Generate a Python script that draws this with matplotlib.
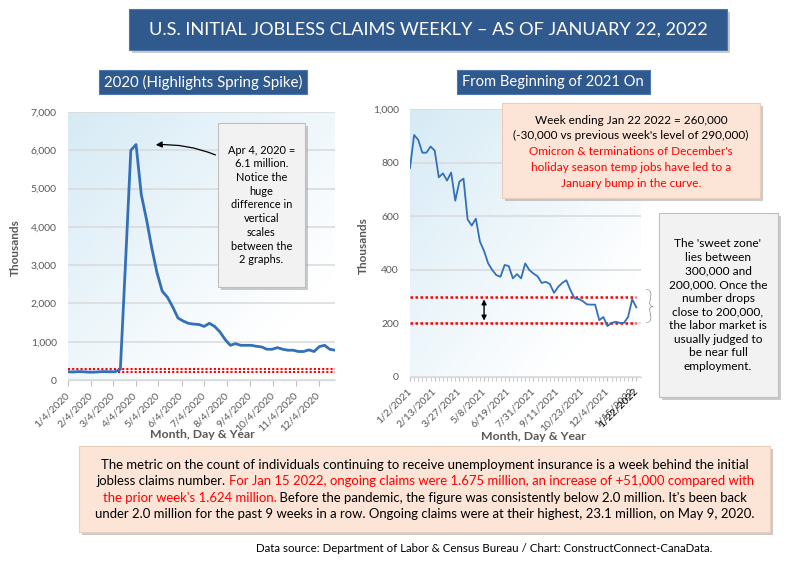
import numpy as np
import pandas as pd
import matplotlib
matplotlib.use('Agg')
import matplotlib.pyplot as plt
from matplotlib.patches import Rectangle
from matplotlib.ticker import FuncFormatter

FONT = ['Lato', 'DejaVu Sans']
plt.rcParams['font.family'] = FONT

W, H = 799, 567

# ---------------- data (thousands) ----------------
dates_2020 = pd.date_range('2020-01-04', periods=52, freq='7D')
claims_2020 = [215, 210, 220, 215, 205, 205, 215, 220, 215, 215,
               280, 3100, 6000, 6150, 4840, 4190, 3450, 2800, 2320, 2160,
               1910, 1620, 1540, 1480, 1460, 1450, 1400, 1480, 1400, 1260,
               1060, 906, 949, 906, 906, 906, 880, 863, 803, 803,
               846, 803, 778, 778, 744, 744, 786, 744, 872, 906,
               803, 778]

dates_2021 = pd.date_range('2021-01-02', periods=56, freq='7D')
claims_2021 = [780, 903, 885, 837, 837, 860, 845, 745, 760, 733,
               763, 658, 729, 740, 588, 565, 591, 505, 470, 424,
               399, 380, 374, 418, 414, 368, 384, 368, 424, 399,
               386, 376, 351, 355, 347, 314, 336, 351, 361, 324,
               293, 291, 283, 271, 270, 270, 212, 224, 190, 202,
               206, 202, 202, 224, 290, 260]

left_tick_labels = ['1/4/2020', '2/4/2020', '3/4/2020', '4/4/2020', '5/4/2020', '6/4/2020',
                    '7/4/2020', '8/4/2020', '9/4/2020', '10/4/2020', '11/4/2020', '12/4/2020']
right_tick_labels = ['1/2/2021', '2/13/2021', '3/27/2021', '5/8/2021', '6/19/2021', '7/31/2021',
                     '9/11/2021', '10/23/2021', '12/4/2021', '1/15/2022']
last_label = '1/22/2022'
sweet_zone = [200, 300]
arrow_date = '5/8/2021'

fig = plt.figure(figsize=(W / 100, H / 100), dpi=100)
fig.patch.set_facecolor('white')
renderer = fig.canvas.get_renderer()

GRAY = '#595959'
LINE = '#3470B8'


def fxy(x, y):
    return x / W, 1 - y / H


def ptext(x, y, s, **kw):
    X, Y = fxy(x, y)
    return fig.text(X, Y, s, **kw)


def fit(t, target):
    w = t.get_window_extent(renderer).width
    t.set_fontsize(t.get_fontsize() * target / w)
    return t


def box(x0, y0, x1, y1, face, edge='none', shadow=True, lw=0.8, z=2):
    if shadow:
        X, Y = fxy(x0 + 3, y1 + 3)
        fig.add_artist(Rectangle((X, Y), (x1 - x0) / W, (y1 - y0) / H, transform=fig.transFigure,
                                 facecolor='#8C8C8C', alpha=0.45, edgecolor='none', zorder=z - 0.1))
    X, Y = fxy(x0, y1)
    fig.add_artist(Rectangle((X, Y), (x1 - x0) / W, (y1 - y0) / H, transform=fig.transFigure,
                             facecolor=face, edgecolor=edge, lw=lw, zorder=z))


def gradient_bg(ax):
    n = 200
    xx, yy = np.meshgrid(np.linspace(0, 1, n), np.linspace(0, 1, n))
    s = np.clip((xx + yy) / 1.6, 0, 1)[..., None]
    c0 = np.array([0.84, 0.92, 0.96])
    c1 = np.array([1.0, 1.0, 1.0])
    img = c0 * (1 - s) + c1 * s
    ax.imshow(img, extent=(0, 1, 0, 1), transform=ax.transAxes, aspect='auto', zorder=0,
              origin='upper', interpolation='bilinear')


def style_axes(ax):
    for sp in ['left', 'right', 'top']:
        ax.spines[sp].set_visible(False)
    ax.spines['bottom'].set_color('#D9D9D9')
    ax.yaxis.grid(True, color='#D9D9D9', lw=1.1, zorder=1)
    ax.set_axisbelow(True)
    ax.tick_params(axis='y', length=0, labelsize=7.5, labelcolor=GRAY, pad=8)
    ax.tick_params(axis='x', which='both', color='#BFBFBF', labelsize=7.5, labelcolor=GRAY)
    ax.yaxis.set_major_formatter(FuncFormatter(lambda v, p: f'{int(v):,}'))


# ---------------- left chart ----------------
axL = fig.add_axes([68 / W, 1 - 380 / H, (335 - 68) / W, (380 - 112) / H])
gradient_bg(axL)
style_axes(axL)
axL.plot(dates_2020, claims_2020, color=LINE, lw=2.0, zorder=3, solid_joinstyle='round')
for v in sweet_zone:
    axL.axhline(v, color='red', lw=1.5, ls=(0, (1, 1)), zorder=2.5)
axL.set_xlim(dates_2020[0], dates_2020[-1])
axL.set_ylim(0, 7000)
axL.set_yticks(range(0, 7001, 1000))
lt = pd.to_datetime(left_tick_labels, format='%m/%d/%Y')
axL.set_xticks(lt)
axL.set_xticklabels(left_tick_labels, rotation=45, ha='right', va='center', rotation_mode='anchor')
axL.tick_params(axis='x', length=4, pad=6)

# ---------------- right chart ----------------
axR = fig.add_axes([410 / W, 1 - 377 / H, (641 - 410) / W, (377 - 109) / H])
gradient_bg(axR)
style_axes(axR)
axR.plot(dates_2021, claims_2021, color=LINE, lw=1.3, zorder=3)
for v in sweet_zone:
    axR.plot([dates_2021[0], dates_2021[-1]], [v, v], color='red', lw=1.8, ls=(0, (1, 1)), zorder=2.5)
axR.set_xlim(dates_2021[0], pd.Timestamp('2022-01-30'))
axR.set_ylim(0, 1000)
axR.set_yticks(range(0, 1001, 200))
rt = list(pd.to_datetime(right_tick_labels, format='%m/%d/%Y')) + [pd.Timestamp('2022-01-22')]
axR.set_xticks(rt)
labs = axR.set_xticklabels(right_tick_labels + [last_label], rotation=45, ha='right', va='center',
                           rotation_mode='anchor')
labs[-1].set_color('black')
axR.set_xticks(dates_2021, minor=True)
axR.tick_params(axis='x', which='both', length=3, pad=6)
ad = pd.to_datetime(arrow_date, format='%m/%d/%Y')
axR.annotate('', xy=(ad, sweet_zone[0]), xytext=(ad, sweet_zone[1]),
             arrowprops=dict(arrowstyle='<|-|>', color='black', lw=1.0, mutation_scale=7,
                             shrinkA=2, shrinkB=2), zorder=4)

# axis labels
ptext(15, 248, 'Thousands', rotation=90, ha='center', va='center', fontsize=8.5,
      fontweight='bold', color=GRAY)
ptext(363, 246, 'Thousands', rotation=90, ha='center', va='center', fontsize=8.5,
      fontweight='bold', color=GRAY)
ptext(202, 435, 'Month, Day & Year', ha='center', va='center', fontsize=8.8,
      fontweight='bold', color=GRAY)
ptext(533, 436, 'Month, Day & Year', ha='center', va='center', fontsize=8.8,
      fontweight='bold', color=GRAY)

# ---------------- title & subtitles ----------------
BLUE = '#30598E'
box(129, 9, 727, 50, BLUE, edge='#4C78AE', z=5)
t = ptext(428, 30, 'U.S. INITIAL JOBLESS CLAIMS WEEKLY \u2013 AS OF JANUARY 22, 2022', ha='center',
          va='center', color='white', fontsize=14, zorder=6)
fit(t, 562)

box(99, 70, 307, 94, BLUE, edge='#4C78AE', shadow=False, z=5)
t = ptext(203, 82, '2020 (Highlights Spring Spike)', ha='center', va='center', color='white',
          fontsize=10, zorder=6)
fit(t, 198)
box(457, 70, 650, 94, BLUE, edge='#4C78AE', shadow=False, z=5)
t = ptext(553, 82, 'From Beginning of 2021 On', ha='center', va='center', color='white',
          fontsize=10, zorder=6)
fit(t, 182)

# ---------------- left annotation ----------------
box(218, 123, 305, 287, '#F2F2F2', edge='#BFBFBF', z=5)
t = ptext(261.5, 205, 'Apr 4, 2020 =\n6.1 million.\nNotice the\nhuge\ndifference in\nvertical\nscales\nbetween the\n2 graphs.',
          ha='center', va='center', fontsize=9, linespacing=1.3, color='black', zorder=6)
fit(t, 67)
fig.add_artist(matplotlib.patches.FancyArrowPatch(
    fxy(218, 156), fxy(153, 145), transform=fig.transFigure, connectionstyle='arc3,rad=0.12',
    arrowstyle='-|>', mutation_scale=9, color='black', lw=0.9, zorder=6))

# ---------------- right annotation (salmon) ----------------
box(502, 103, 760, 198, '#FCE4D6', edge='#EBCDBB', z=5)
sal_lines = [("Week ending Jan 22 2022 = 260,000", 'black'),
             ("(-30,000 vs previous week's level of 290,000)", 'black'),
             ("Omicron & terminations of December's", 'red'),
             ("holiday season temp jobs have led to a", 'red'),
             ("January bump in the curve.", 'red')]
t = ptext(631, 120, sal_lines[1][0], ha='center', va='center', fontsize=9)
fit(t, 234)
fs_sal = t.get_fontsize()
t.remove()
for i, (s, c) in enumerate(sal_lines):
    ptext(631, 120 + i * 15.8, s, ha='center', va='center', fontsize=fs_sal, color=c, zorder=6)

# ---------------- sweet zone box ----------------
box(659, 213, 778, 397, '#F2F2F2', edge='#BFBFBF', z=5)
t = ptext(718, 305, "The 'sweet zone'\nlies between\n300,000 and\n200,000. Once the\nnumber drops\nclose to 200,000,\nthe labor market is\nusually judged to\nbe near full\nemployment.",
          ha='center', va='center', fontsize=9, linespacing=1.3, color='black', zorder=6)
fit(t, 99)
ptext(649, 308, '}', ha='center', va='center', fontsize=27, color='#404040', fontweight='light')

# ---------------- bottom box ----------------
box(79, 446, 770, 532, '#FCE4D6', edge='#EBCDBB', z=5)
bottom_lines = [
    [("The metric on the count of individuals continuing to receive unemployment insurance is a week behind the initial", 'black')],
    [("jobless claims number. ", 'black'),
     ("For Jan 15 2022, ongoing claims were 1.675 million, an increase of +51,000 compared with", 'red')],
    [("the prior week's 1.624 million.", 'red'),
     (" Before the pandemic, the figure was consistently below 2.0 million. It's been back", 'black')],
    [("under 2.0 million for the past 9 weeks in a row. Ongoing claims were at their highest, 23.1 million, on May 9, 2020.", 'black')],
]
t = ptext(425, 465, bottom_lines[0][0][0], ha='center', va='baseline', fontsize=10)
fit(t, 651)
fs_b = t.get_fontsize()
t.remove()
cx = 425
for i, segs in enumerate(bottom_lines):
    y = 469 + i * 16.4
    full = ''.join(s for s, c in segs)
    tmp = ptext(cx, y, full, ha='center', va='baseline', fontsize=fs_b)
    w = tmp.get_window_extent(renderer).width
    tmp.remove()
    x0 = cx - w / 2
    if len(segs) == 1:
        ptext(cx, y, full, ha='center', va='baseline', fontsize=fs_b, color=segs[0][1], zorder=6)
    else:
        ptext(x0, y, segs[0][0], ha='left', va='baseline', fontsize=fs_b, color=segs[0][1], zorder=6)
        ptext(x0 + w, y, segs[1][0], ha='right', va='baseline', fontsize=fs_b, color=segs[1][1], zorder=6)

t = ptext(484, 549, 'Data source: Department of Labor & Census Bureau / Chart: ConstructConnect-CanaData.',
          ha='center', va='center', fontsize=8.5, color='black')
fit(t, 457)

fig.savefig('out.png', dpi=100, facecolor='white')
